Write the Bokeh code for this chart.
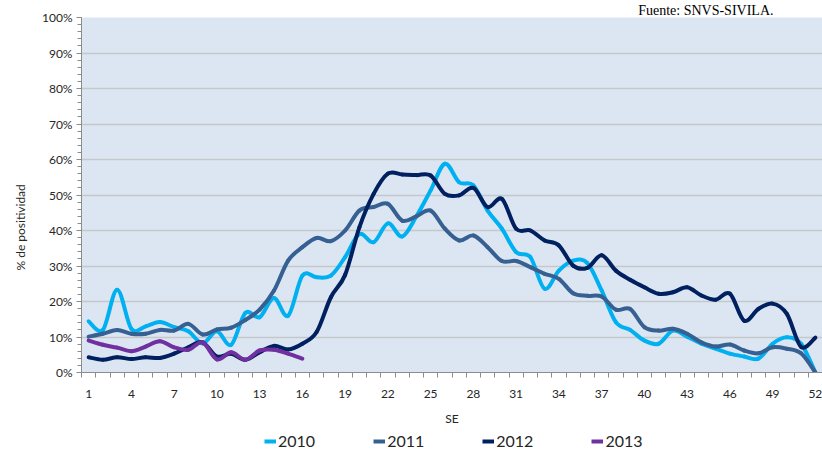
import numpy as np
from bokeh.plotting import figure
from bokeh.layouts import column
from bokeh.models import (ColumnDataSource, Range1d, FixedTicker, Legend,
                          LegendItem, Title)
from bokeh.embed import file_html
from bokeh.resources import INLINE

# ---------------- data ----------------
weeks = list(range(1, 53))
x_tick_weeks = list(range(1, 53, 3))
y_ticks = list(range(0, 101, 10))
y_tick_labels = [f"{v}%" for v in y_ticks]
series_names = ["2010", "2011", "2012", "2013"]

pct_2010 = [14.4, 12.0, 23.3, 12.3, 13.0, 14.2, 12.8, 11.6, 8.2, 11.6,
            7.8, 16.8, 15.6, 21.0, 16.0, 27.3, 26.8, 27.3, 32.5, 39.0,
            36.7, 42.0, 38.3, 44.0, 51.3, 58.8, 53.6, 52.7, 45.6, 40.5,
            33.9, 32.5, 23.6, 28.7, 31.5, 30.8, 23.1, 14.2, 12.0, 9.0,
            8.1, 11.8, 10.1, 8.1, 6.7, 5.3, 4.5, 3.9, 8.1, 9.9,
            8.1, 0.0]
pct_2011 = [10.1, 10.9, 12.0, 10.9, 10.9, 12.0, 11.8, 13.7, 10.7, 12.1,
            12.6, 14.8, 17.7, 23.0, 31.5, 35.3, 37.9, 37.0, 40.0, 45.6,
            46.6, 47.5, 42.8, 44.0, 45.6, 40.5, 37.2, 38.6, 35.3, 31.4,
            31.4, 29.7, 27.8, 26.4, 22.3, 21.6, 21.4, 17.7, 17.9, 12.8,
            11.8, 12.3, 10.9, 8.5, 7.3, 7.9, 6.2, 5.4, 7.1, 6.7,
            5.4, 0.0]
pct_2012 = [4.3, 3.6, 4.3, 3.8, 4.3, 4.1, 5.3, 7.1, 8.5, 4.5,
            5.3, 3.6, 5.7, 7.5, 6.5, 8.1, 11.4, 21.2, 27.5, 40.9,
            50.3, 56.0, 55.8, 55.6, 55.5, 50.3, 49.9, 52.0, 46.6, 48.9,
            40.5, 40.0, 37.2, 35.8, 30.1, 29.5, 33.0, 28.7, 26.1, 24.0,
            22.2, 22.6, 24.0, 21.7, 20.5, 22.2, 14.6, 17.9, 19.4, 16.5,
            7.2, 9.8]
pct_2013 = [9.0, 7.8, 7.0, 6.0, 7.3, 8.8, 7.1, 6.4, 8.5, 3.7,
            5.7, 3.6, 6.2, 6.4, 5.3, 3.9]

series_values = [pct_2010, pct_2011, pct_2012, pct_2013]
colors = ["#00b0f0", "#376092", "#002060", "#7030a0"]

FONT = "Lato"


def smooth_source(values):
    """Bezier segments (Excel-style smoothed line) through the data points."""
    xs = np.asarray(weeks[:len(values)], dtype=float)
    ys = np.asarray(values, dtype=float)
    n = len(xs)
    xp = np.concatenate([[xs[0]], xs, [xs[-1]]])
    yp = np.concatenate([[ys[0]], ys, [ys[-1]]])
    return ColumnDataSource(dict(
        x0=xs[:-1], y0=ys[:-1], x1=xs[1:], y1=ys[1:],
        cx0=xs[:-1] + (xp[2:n + 1] - xp[0:n - 1]) / 6.0,
        cy0=ys[:-1] + (yp[2:n + 1] - yp[0:n - 1]) / 6.0,
        cx1=xs[1:] - (xp[3:n + 2] - xp[1:n]) / 6.0,
        cy1=ys[1:] - (yp[3:n + 2] - yp[1:n]) / 6.0,
    ))


# ---------------- main chart ----------------
p = figure(width=822, height=428,
           x_range=Range1d(0.5, 52.5), y_range=Range1d(0, 100),
           output_backend="svg", toolbar_location=None,
           min_border_left=80, min_border_right=0,
           min_border_top=17, min_border_bottom=56,
           background_fill_color="#dce6f2", border_fill_color="white",
           outline_line_color=None)

# grid
p.xgrid.visible = False
p.ygrid.ticker = FixedTicker(ticks=y_ticks)
p.ygrid.grid_line_color = "#c4c7cc"
p.ygrid.grid_line_width = 1.5

# x axis
p.xaxis.ticker = FixedTicker(ticks=x_tick_weeks,
                             minor_ticks=[w - 0.5 for w in weeks] + [weeks[-1] + 0.5])
p.xaxis.major_tick_out = 0
p.xaxis.major_tick_in = 0
p.xaxis.minor_tick_out = 5
p.xaxis.minor_tick_in = 0
p.xaxis.major_label_standoff = 12
p.xaxis.axis_label = "SE"
p.xaxis.axis_label_standoff = 10
p.xaxis.axis_label_text_font = FONT
p.xaxis.axis_label_text_font_size = "12px"
p.xaxis.axis_label_text_font_style = "normal"
p.xaxis.axis_label_text_color = "#262626"

# y axis
p.yaxis.ticker = FixedTicker(ticks=y_ticks, minor_ticks=list(range(0, 101, 2)))
p.yaxis.major_label_overrides = {v: lab for v, lab in zip(y_ticks, y_tick_labels)}
p.yaxis.major_tick_out = 5
p.yaxis.major_tick_in = 0
p.yaxis.minor_tick_out = 4
p.yaxis.minor_tick_in = 0
p.yaxis.major_label_standoff = 4

for ax in (p.xaxis, p.yaxis):
    ax.axis_line_color = "#8c8c8c"
    ax.major_tick_line_color = "#8c8c8c"
    ax.minor_tick_line_color = "#8c8c8c"
    ax.major_label_text_font = FONT
    ax.major_label_text_font_size = "12px"
    ax.major_label_text_color = "#262626"

for name, vals, col in zip(series_names, series_values, colors):
    p.bezier(x0="x0", y0="y0", x1="x1", y1="y1",
             cx0="cx0", cy0="cy0", cx1="cx1", cy1="cy1",
             source=smooth_source(vals), line_color=col, line_width=4,
             line_cap="round", line_join="round")

# y-axis title, placed lower as in the original
p.add_layout(Title(text="% de positividad", align="left", offset=102,
                   vertical_align="middle", standoff=22,
                   text_font=FONT, text_font_size="12px",
                   text_font_style="normal", text_color="#262626"), "left")

# source note above the plot
p.add_layout(Title(text="Fuente: SNVS-SIVILA.", align="right", offset=49,
                   vertical_align="bottom", standoff=0,
                   text_font="Liberation Serif", text_font_size="14px",
                   text_font_style="normal", text_color="black"), "above")

# ---------------- legend strip ----------------
pl = figure(width=822, height=22, x_range=Range1d(0, 1), y_range=Range1d(0, 1),
            output_backend="svg", toolbar_location=None,
            min_border=0, x_axis_location=None, y_axis_location=None,
            outline_line_color=None, border_fill_color="white",
            background_fill_color="white")
pl.grid.visible = False

items = []
for name, vals, col in zip(series_names, series_values, colors):
    r = pl.line(weeks[:len(vals)], vals, line_color=col, line_width=4, visible=False)
    items.append(LegendItem(label=name, renderers=[r]))

legend = Legend(items=items, orientation="horizontal", location=(183, 0),
                padding=0, margin=0, spacing=58, glyph_width=12, glyph_height=16,
                label_height=16, label_standoff=2,
                label_text_font=FONT, label_text_font_size="16px",
                label_text_color="#262626",
                border_line_color=None, background_fill_alpha=0)
pl.add_layout(legend, "center")

layout = column(p, pl, spacing=0)
open("out.html", "w").write(file_html(layout, INLINE))
